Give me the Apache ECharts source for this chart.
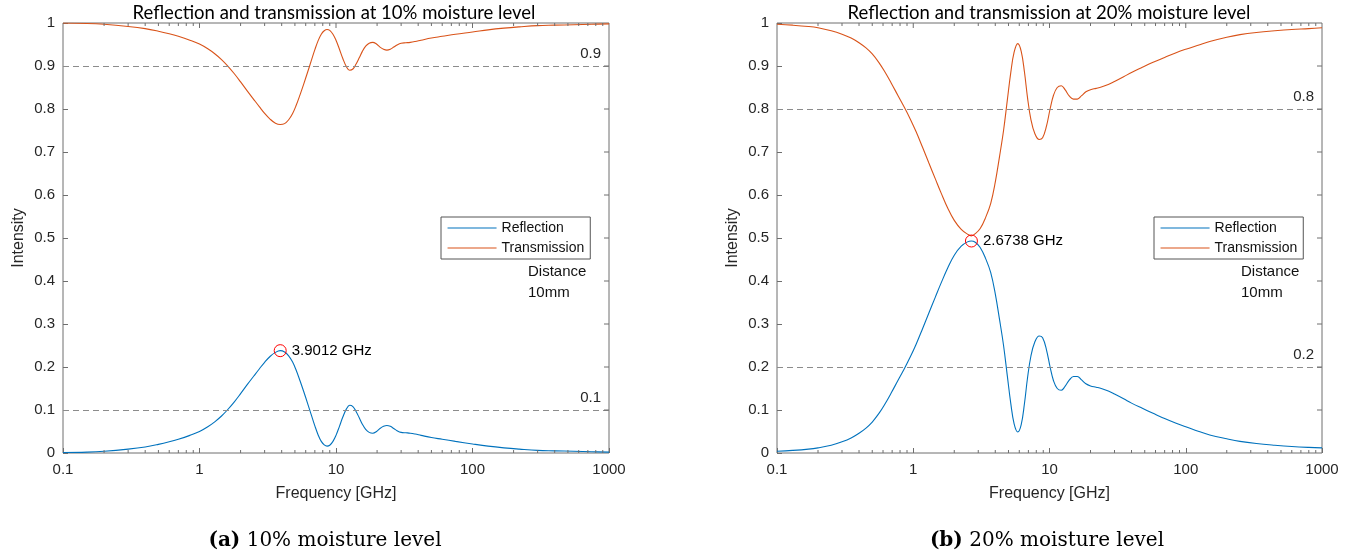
<!DOCTYPE html>
<html>
<head>
<meta charset="utf-8">
<title>Reflection and transmission</title>
<script src="https://cdn.jsdelivr.net/npm/echarts@6/dist/echarts.min.js"></script>
<style>
  html, body { margin: 0; padding: 0; background: #fff; }
  #chart { width: 1354px; height: 559px; }
</style>
</head>
<body>
<div id="chart"></div>
<script>
// 10% moisture level
const freqA = [0.1, 0.15, 0.2, 0.3, 0.4, 0.5, 0.6, 0.7, 0.85, 1.0, 1.15, 1.3, 1.45, 1.6, 1.8, 2.0, 2.25, 2.5, 2.75, 3.0, 3.3, 3.6, 3.9, 4.2, 4.5, 4.8, 5.1, 5.45, 5.8, 6.2, 6.6, 7.0, 7.4, 7.8, 8.2, 8.6, 9.0, 9.5, 10.0, 10.6, 11.2, 11.9, 12.6, 13.3, 14.0, 14.8, 15.6, 16.5, 17.5, 18.6, 19.8, 21.0, 22.3, 23.6, 25.0, 26.5, 28.0, 30.0, 32.5, 35.0, 38.0, 42.0, 50, 60, 75, 100, 130, 170, 220, 300, 400, 550, 750, 1000];
const reflA = [0.001, 0.002, 0.004, 0.009, 0.014, 0.020, 0.026, 0.032, 0.041, 0.050, 0.061, 0.073, 0.086, 0.100, 0.119, 0.138, 0.160, 0.179, 0.196, 0.211, 0.225, 0.234, 0.238, 0.235, 0.226, 0.212, 0.193, 0.168, 0.143, 0.115, 0.088, 0.063, 0.042, 0.027, 0.019, 0.016, 0.018, 0.027, 0.041, 0.062, 0.083, 0.102, 0.111, 0.108, 0.097, 0.082, 0.067, 0.055, 0.048, 0.046, 0.050, 0.057, 0.062, 0.064, 0.062, 0.057, 0.052, 0.048, 0.047, 0.046, 0.044, 0.041, 0.036, 0.032, 0.027, 0.021, 0.016, 0.012, 0.009, 0.006, 0.005, 0.004, 0.003, 0.002];
const transA = [1.000, 0.999, 0.997, 0.992, 0.987, 0.981, 0.975, 0.969, 0.960, 0.951, 0.940, 0.928, 0.915, 0.901, 0.882, 0.863, 0.841, 0.822, 0.805, 0.790, 0.776, 0.767, 0.764, 0.766, 0.775, 0.789, 0.808, 0.833, 0.858, 0.886, 0.913, 0.938, 0.959, 0.974, 0.982, 0.985, 0.983, 0.974, 0.960, 0.939, 0.918, 0.899, 0.890, 0.893, 0.904, 0.919, 0.934, 0.946, 0.953, 0.955, 0.951, 0.944, 0.939, 0.937, 0.939, 0.944, 0.949, 0.953, 0.954, 0.955, 0.957, 0.960, 0.965, 0.969, 0.974, 0.979, 0.984, 0.988, 0.991, 0.994, 0.995, 0.996, 0.997, 0.998];
const peakA = [3.9012, 0.238];

// 20% moisture level
const freqB = [0.1, 0.13, 0.17, 0.2, 0.25, 0.3, 0.35, 0.4, 0.45, 0.5, 0.56, 0.62, 0.69, 0.77, 0.86, 0.95, 1.05, 1.17, 1.3, 1.45, 1.6, 1.8, 2.0, 2.25, 2.5, 2.67, 2.85, 3.1, 3.4, 3.7, 4.0, 4.3, 4.6, 4.9, 5.2, 5.5, 5.85, 6.2, 6.55, 6.9, 7.3, 7.8, 8.4, 8.9, 9.5, 10.1, 10.7, 11.4, 12.2, 13.0, 14.0, 15.0, 16.0, 17.2, 18.5, 20, 22, 24, 27, 30, 35, 40, 48, 57, 70, 85, 100, 125, 150, 200, 250, 330, 450, 600, 800, 1000];
const reflB = [0.004, 0.006, 0.009, 0.012, 0.018, 0.026, 0.035, 0.046, 0.058, 0.072, 0.092, 0.114, 0.140, 0.168, 0.196, 0.223, 0.253, 0.289, 0.325, 0.362, 0.395, 0.432, 0.460, 0.481, 0.491, 0.493, 0.490, 0.478, 0.452, 0.420, 0.370, 0.310, 0.250, 0.180, 0.115, 0.068, 0.049, 0.066, 0.115, 0.175, 0.225, 0.258, 0.272, 0.268, 0.240, 0.200, 0.168, 0.150, 0.146, 0.155, 0.170, 0.178, 0.178, 0.170, 0.161, 0.156, 0.153, 0.150, 0.144, 0.137, 0.126, 0.116, 0.104, 0.093, 0.080, 0.069, 0.061, 0.050, 0.042, 0.033, 0.027, 0.022, 0.018, 0.015, 0.013, 0.012];
const transB = [0.997, 0.995, 0.992, 0.989, 0.982, 0.974, 0.965, 0.954, 0.942, 0.928, 0.908, 0.886, 0.860, 0.832, 0.804, 0.777, 0.747, 0.711, 0.675, 0.638, 0.605, 0.568, 0.541, 0.520, 0.509, 0.505, 0.510, 0.522, 0.548, 0.580, 0.630, 0.690, 0.750, 0.820, 0.885, 0.932, 0.952, 0.934, 0.886, 0.826, 0.776, 0.743, 0.729, 0.733, 0.760, 0.800, 0.832, 0.850, 0.854, 0.845, 0.830, 0.823, 0.823, 0.831, 0.840, 0.845, 0.848, 0.851, 0.857, 0.864, 0.875, 0.885, 0.897, 0.908, 0.920, 0.931, 0.939, 0.949, 0.957, 0.967, 0.973, 0.978, 0.982, 0.985, 0.987, 0.989];
const peakB = [2.6738, 0.493];

// axis decoration
const yTickVals = [0.1, 0.2, 0.3, 0.4, 0.5, 0.6, 0.7, 0.8, 0.9];
const xMajorVals = [1, 10, 100];
const xMinorVals = [0.2, 0.3, 0.4, 0.5, 0.6, 0.7, 0.8, 0.9, 2, 3, 4, 5, 6, 7, 8, 9, 20, 30, 40, 50, 60, 70, 80, 90, 200, 300, 400, 500, 600, 700, 800, 900];

const BLUE = "#0072BD";
const ORANGE = "#D95319";
const AXIS = "#6e6e6e";
const TXT = "#262626";
const SANS = "'Liberation Sans', Arial, sans-serif";

const grids = [
  { left: 63, top: 23, width: 546, height: 430 },
  { left: 777, top: 23, width: 545, height: 430 },
];

function line(x1, y1, x2, y2) {
  return { type: "line", shape: { x1, y1, x2, y2 }, style: { stroke: AXIS, lineWidth: 1 } };
}

// ticks on the top and right edges plus log minor ticks, placed through the axes
function tickSeries(gi) {
  return [
    {
      type: "custom", xAxisIndex: gi, yAxisIndex: gi, silent: true, z: 5,
      data: xMinorVals.map((v) => [v, 0]),
      renderItem: (params, api) => {
        const b = api.coord([api.value(0), 0]);
        const t = api.coord([api.value(0), 1]);
        return { type: "group", children: [line(b[0], b[1], b[0], b[1] - 3), line(t[0], t[1], t[0], t[1] + 3)] };
      },
    },
    {
      type: "custom", xAxisIndex: gi, yAxisIndex: gi, silent: true, z: 5,
      data: xMajorVals.map((v) => [v, 1]),
      renderItem: (params, api) => {
        const t = api.coord([api.value(0), 1]);
        return line(t[0], t[1], t[0], t[1] + 5);
      },
    },
    {
      type: "custom", xAxisIndex: gi, yAxisIndex: gi, silent: true, z: 5,
      data: yTickVals.map((v) => [1000, v]),
      renderItem: (params, api) => {
        const r = api.coord([1000, api.value(1)]);
        return line(r[0], r[1], r[0] - 5, r[1]);
      },
    },
  ];
}

function refLine(val) {
  return {
    silent: true,
    symbol: ["none", "none"],
    lineStyle: { type: [6, 4], color: "#8c8c8c", width: 1 },
    label: { position: "insideEndTop", formatter: String(val), fontSize: 15, color: TXT, fontFamily: SANS, distance: [8, 5] },
    data: [{ yAxis: val }],
  };
}

function curves(gi, freq, refl, trans, peak, lines) {
  return [
    {
      name: "Reflection", type: "line", xAxisIndex: gi, yAxisIndex: gi,
      data: freq.map((f, i) => [f, refl[i]]),
      smooth: 0.4, symbol: "none", showSymbol: false,
      lineStyle: { color: BLUE, width: 1.1 }, itemStyle: { color: BLUE },
      markLine: refLine(lines[1]),
    },
    {
      name: "Transmission", type: "line", xAxisIndex: gi, yAxisIndex: gi,
      data: freq.map((f, i) => [f, trans[i]]),
      smooth: 0.4, symbol: "none", showSymbol: false,
      lineStyle: { color: ORANGE, width: 1.1 }, itemStyle: { color: ORANGE },
      markLine: refLine(lines[0]),
    },
    {
      type: "scatter", xAxisIndex: gi, yAxisIndex: gi, silent: true, z: 4,
      data: [peak], symbol: "circle", symbolSize: 12,
      itemStyle: { color: "rgba(0,0,0,0)", borderColor: "#ff0000", borderWidth: 1, opacity: 1 },
      label: {
        show: true, position: "right", distance: 5,
        formatter: peak[0].toFixed(4) + " GHz",
        fontSize: 15, color: "#000", fontFamily: SANS, opacity: 1,
      },
    },
  ];
}

const xAxes = grids.map((g, i) => ({
  type: "log", logBase: 10, gridIndex: i, min: 0.1, max: 1000,
  name: "Frequency [GHz]", nameLocation: "middle", nameGap: 33,
  nameTextStyle: { fontSize: 16, color: TXT, fontFamily: SANS },
  axisLine: { show: false },
  axisTick: { inside: true, length: 5, lineStyle: { color: AXIS } },
  axisLabel: { fontSize: 15, color: TXT, fontFamily: SANS, margin: 9, formatter: (v) => String(+v.toPrecision(6)) },
  splitLine: { show: false },
}));

const yAxes = grids.map((g, i) => ({
  type: "value", gridIndex: i, min: 0, max: 1, interval: 0.1,
  name: "Intensity", nameLocation: "middle", nameGap: 36,
  nameTextStyle: { fontSize: 16, color: TXT, fontFamily: SANS },
  axisLine: { show: false },
  axisTick: { inside: true, length: 5, lineStyle: { color: AXIS } },
  axisLabel: { fontSize: 15, color: TXT, fontFamily: SANS, margin: 8 },
  splitLine: { show: false },
}));

const legendBase = {
  orient: "vertical", top: 217, data: ["Reflection", "Transmission"],
  backgroundColor: "#fff", borderColor: "#555", borderWidth: 1,
  padding: [4, 6, 4, 6], itemWidth: 49, itemHeight: 14, itemGap: 6,
  itemStyle: { opacity: 0 },
  lineStyle: { width: 1.1 },
  textStyle: { fontSize: 14, color: "#111", fontFamily: SANS },
  selectedMode: false,
};

function text(x, y, str, extra) {
  return { type: "text", x, y, silent: true, style: Object.assign({ text: str, fill: "#111", font: "15px " + SANS, verticalAlign: "middle" }, extra) };
}

const CAP = "20px 'DejaVu Serif', serif";
const caption = (x, tag, str) => ({
  type: "text", x, y: 541, silent: true,
  style: {
    text: "{b|" + tag + "} " + str, align: "center", verticalAlign: "middle",
    font: CAP, fill: "#000",
    rich: { b: { font: "bold " + CAP, fill: "#000" } },
  },
});

const TITLE_FONT = "18.5px Lato, sans-serif";

const chart = echarts.init(document.getElementById("chart"));
chart.setOption({
  animation: false,
  grid: grids.map((g) => Object.assign({ show: true, borderColor: AXIS, borderWidth: 1, backgroundColor: "#fff" }, g)),
  xAxis: xAxes,
  yAxis: yAxes,
  legend: [Object.assign({ left: 441 }, legendBase), Object.assign({ left: 1154 }, legendBase)],
  graphic: [
    text(334, 13, "Reflection and transmission at 10% moisture level", { align: "center", font: TITLE_FONT, fill: "#000" }),
    text(1049, 13, "Reflection and transmission at 20% moisture level", { align: "center", font: TITLE_FONT, fill: "#000" }),
    text(528, 272, "Distance"),
    text(528, 293, "10mm"),
    text(1241, 272, "Distance"),
    text(1241, 293, "10mm"),
    caption(325, "(a)", "10% moisture level"),
    caption(1047, "(b)", "20% moisture level"),
  ],
  series: [
    ...curves(0, freqA, reflA, transA, peakA, [0.9, 0.1]),
    ...curves(1, freqB, reflB, transB, peakB, [0.8, 0.2]),
    ...tickSeries(0),
    ...tickSeries(1),
  ],
});
</script>
</body>
</html>
